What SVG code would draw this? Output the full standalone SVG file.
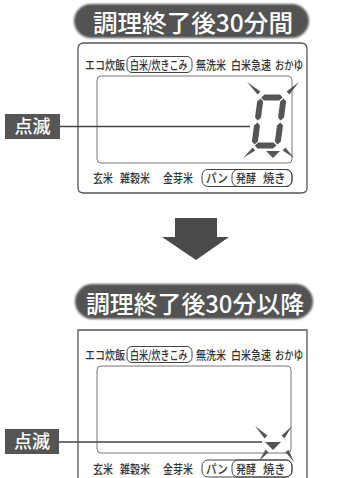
<svg xmlns="http://www.w3.org/2000/svg" width="350" height="478" viewBox="0 0 350 478">
<defs>
<style>
.title{font-family:"Noto Sans CJK JP","Noto Sans",sans-serif;font-size:24px;font-weight:500;fill:#fff}
.lbl{font-family:"Noto Sans CJK JP","Noto Sans",sans-serif;font-size:12.5px;font-weight:500;fill:#333}
.tag{font-family:"Noto Sans CJK JP","Noto Sans",sans-serif;font-size:18px;font-weight:500;fill:#fff}
.frame{fill:none;stroke:#555;stroke-width:1.3}
.disp{fill:#fff;stroke:#777;stroke-width:1}
.box{fill:none;stroke:#444;stroke-width:1}
.seg{fill:#555}
.lead{stroke:#444;stroke-width:1.3}
</style>
<filter id="soft" x="-10%" y="-30%" width="120%" height="160%"><feGaussianBlur stdDeviation="1.1"/></filter>
</defs>
<rect width="350" height="478" fill="#fff"/>

<g id="title1">
<rect x="74" y="4" width="235" height="34" rx="17" fill="#525252" filter="url(#soft)"/>
<text class="title" x="93" y="32" textLength="200" lengthAdjust="spacingAndGlyphs">調理終了後30分間</text>
</g>

<g id="panel1">
<path class="frame" d="M78,49 Q78,43 84,43 L301,43 Q307,43 307,49 L307,188 Q307,193 301,193 L84,193 Q78,193 78,188 Z"/>
<text class="lbl" transform="translate(85,70) scale(0.8,1)">エコ炊飯</text>
<rect class="box" x="127" y="56.5" width="65" height="16" rx="5"/>
<text class="lbl" transform="translate(130,70) scale(0.72,1)">白米/炊きこみ</text>
<text class="lbl" transform="translate(196,70) scale(0.8,1)">無洗米</text>
<text class="lbl" transform="translate(231,70) scale(0.8,1)">白米急速</text>
<text class="lbl" transform="translate(275,70) scale(0.75,1)">おかゆ</text>
<rect class="disp" x="97" y="76" width="195" height="87" rx="4"/>
<text class="lbl" transform="translate(93,183) scale(0.8,1)">玄米</text>
<text class="lbl" transform="translate(120,183) scale(0.8,1)">雑穀米</text>
<text class="lbl" transform="translate(163,183) scale(0.8,1)">金芽米</text>
<rect class="box" x="202" y="169.5" width="90" height="17" rx="6"/>
<text class="lbl" transform="translate(206,183) scale(0.85,1)">パン</text>
<rect class="box" x="232" y="169.5" width="60" height="17" rx="6"/>
<text class="lbl" transform="translate(236,183) scale(0.8,1)">発酵</text>
<text class="lbl" transform="translate(263,183) scale(0.9,1)">焼き</text>
<g class="seg">
<g transform="translate(258,95) skewX(-7.5)">
<polygon points="3.5,2.5 6.5,-0.5 22,-0.5 25,2.5 22,5.5 6.5,5.5"/>
<polygon points="3.5,50.5 6.5,47.5 22,47.5 25,50.5 22,53.5 6.5,53.5"/>
<polygon points="3,3.5 6,6.5 6,22.5 3,25.5 0,22.5 0,6.5"/>
<polygon points="3,27.5 6,30.5 6,46.5 3,49.5 0,46.5 0,30.5"/>
<polygon points="26,3.5 29,6.5 29,22.5 26,25.5 23,22.5 23,6.5"/>
<polygon points="26,27.5 29,30.5 29,46.5 26,49.5 23,46.5 23,30.5"/>
</g>
<polygon points="266,151 280,151 273,158"/>
<polygon points="247,82 257.65,94.47 260.35,91.53"/>
<polygon points="299,82 289.41,94.41 286.59,91.59"/>
<polygon points="243,158 255.27,150.55 252.73,147.45"/>
<polygon points="294,158 285.34,147.51 282.66,150.49"/>
</g>
</g>

<g id="tag1">
<rect x="5" y="114" width="55" height="25" fill="#555"/>
<text class="tag" x="32.5" y="133" text-anchor="middle">点滅</text>
</g>

<g id="title2">
<rect x="75" y="284" width="238" height="35" rx="17.5" fill="#525252" filter="url(#soft)"/>
<text class="title" x="86" y="313" textLength="218" lengthAdjust="spacingAndGlyphs">調理終了後30分以降</text>
</g>

<g id="panel2">
<path class="frame" d="M78,478 L78,330 L307,330 L307,478"/>
<text class="lbl" transform="translate(85,360) scale(0.8,1)">エコ炊飯</text>
<rect class="box" x="127" y="346.5" width="65" height="16" rx="5"/>
<text class="lbl" transform="translate(130,360) scale(0.72,1)">白米/炊きこみ</text>
<text class="lbl" transform="translate(196,360) scale(0.8,1)">無洗米</text>
<text class="lbl" transform="translate(231,360) scale(0.8,1)">白米急速</text>
<text class="lbl" transform="translate(275,360) scale(0.75,1)">おかゆ</text>
<rect class="disp" x="97" y="366" width="194" height="87" rx="4"/>
<text class="lbl" transform="translate(93,473.5) scale(0.8,1)">玄米</text>
<text class="lbl" transform="translate(120,473.5) scale(0.8,1)">雑穀米</text>
<text class="lbl" transform="translate(163,473.5) scale(0.8,1)">金芽米</text>
<rect class="box" x="202" y="460" width="90" height="17" rx="6"/>
<text class="lbl" transform="translate(206,473.5) scale(0.85,1)">パン</text>
<rect class="box" x="232" y="460" width="60" height="17" rx="6"/>
<text class="lbl" transform="translate(236,473.5) scale(0.8,1)">発酵</text>
<text class="lbl" transform="translate(263,473.5) scale(0.9,1)">焼き</text>
<g class="seg">
<polygon points="265,442 281,442 273,450"/>
<polygon points="255,426 264.59,438.41 267.41,435.59"/>
<polygon points="292,426 284.55,438.27 281.45,435.73"/>
<polygon points="259,461 268.56,452.25 265.44,449.75"/>
<polygon points="294,462 288.69,449.93 285.31,452.07"/>
</g>
</g>

<g id="tag2">
<rect x="5" y="429" width="54" height="25" fill="#555"/>
<text class="tag" x="32" y="448" text-anchor="middle">点滅</text>
</g>

<g id="connectors">
<line class="lead" x1="60" y1="126.5" x2="250" y2="126.5"/>
<line class="lead" x1="59" y1="442" x2="262" y2="442"/>
<polygon id="arrow" points="175,218 217,218 217,237 229,237 196,260 162,237 175,237" fill="#4a4a4a"/>
</g>
</svg>
